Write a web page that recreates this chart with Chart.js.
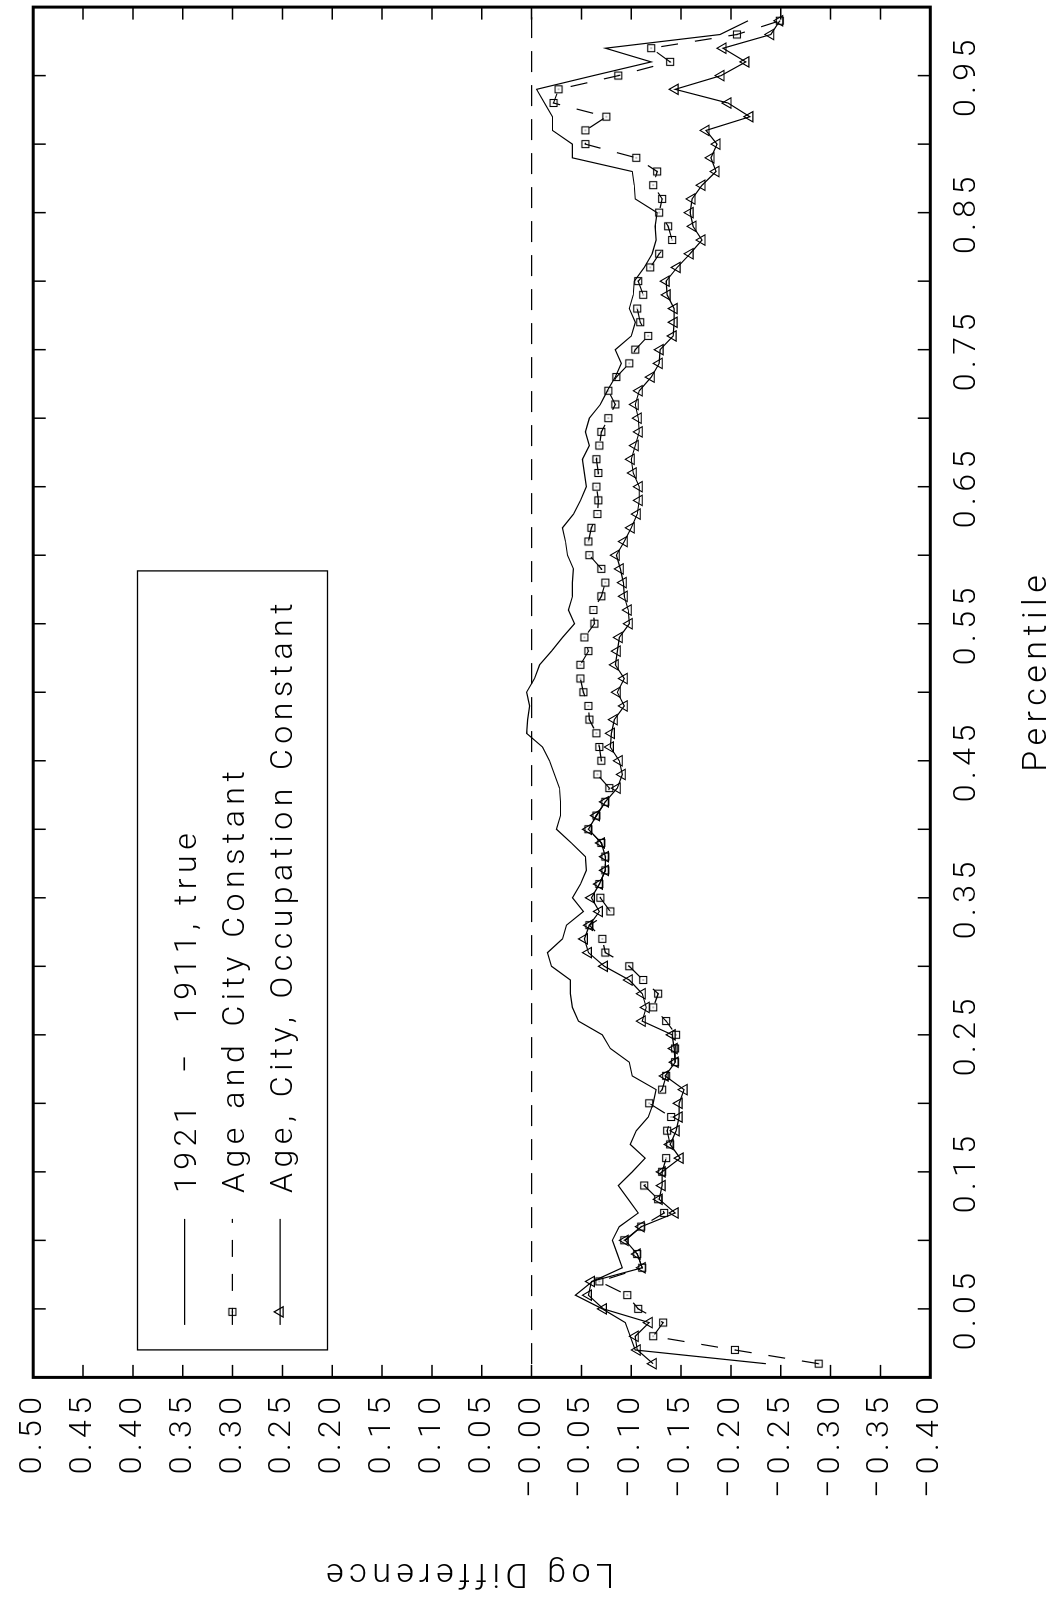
<!DOCTYPE html>
<html>
<head>
<meta charset="utf-8">
<script src="https://cdn.jsdelivr.net/npm/chart.js@4.4.1/dist/chart.umd.min.js"></script>
<style>
    html, body { margin: 0; padding: 0; background: #fff; overflow: hidden; }
    body { width: 1056px; height: 1598px; position: relative; }
    /* the chart is drawn landscape and turned a quarter turn to the left */
    #page {
        position: absolute; left: 0; top: 0;
        width: 1598px; height: 1056px;
        transform-origin: 0 0;
        transform: translateY(1598px) rotate(-90deg);
    }
</style>
</head>
<body>
<div id="page"><canvas id="chart" width="1598" height="1056"></canvas></div>
<script>
const PERCENTILES = [
    0.01, 0.02, 0.03, 0.04, 0.05, 0.06, 0.07, 0.08, 0.09, 0.10,
    0.11, 0.12, 0.13, 0.14, 0.15, 0.16, 0.17, 0.18, 0.19, 0.20,
    0.21, 0.22, 0.23, 0.24, 0.25, 0.26, 0.27, 0.28, 0.29, 0.30,
    0.31, 0.32, 0.33, 0.34, 0.35, 0.36, 0.37, 0.38, 0.39, 0.40,
    0.41, 0.42, 0.43, 0.44, 0.45, 0.46, 0.47, 0.48, 0.49, 0.50,
    0.51, 0.52, 0.53, 0.54, 0.55, 0.56, 0.57, 0.58, 0.59, 0.60,
    0.61, 0.62, 0.63, 0.64, 0.65, 0.66, 0.67, 0.68, 0.69, 0.70,
    0.71, 0.72, 0.73, 0.74, 0.75, 0.76, 0.77, 0.78, 0.79, 0.80,
    0.81, 0.82, 0.83, 0.84, 0.85, 0.86, 0.87, 0.88, 0.89, 0.90,
    0.91, 0.92, 0.93, 0.94, 0.95, 0.96, 0.97, 0.98, 0.99
];

const SERIES_NAMES = ['1921  \u2212  1911, true', 'Age and City Constant', 'Age, City, Occupation Constant'];

const TRUE_DIFF = [
    -0.235, -0.104, -0.099, -0.094, -0.071, -0.044, -0.061, -0.091, -0.086, -0.081,
    -0.088, -0.107, -0.097, -0.087, -0.101, -0.114, -0.099, -0.105, -0.117, -0.122,
    -0.125, -0.101, -0.098, -0.079, -0.071, -0.047, -0.041, -0.039, -0.039, -0.020,
    -0.016, -0.031, -0.035, -0.052, -0.041, -0.049, -0.055, -0.054, -0.040, -0.025,
    -0.029, -0.029, -0.028, -0.023, -0.018, -0.011, 0.005, 0.004, 0.002, 0.005,
    -0.003, -0.008, -0.020, -0.031, -0.043, -0.037, -0.041, -0.041, -0.042, -0.036,
    -0.034, -0.031, -0.042, -0.049, -0.055, -0.053, -0.051, -0.058, -0.054, -0.058,
    -0.069, -0.076, -0.084, -0.090, -0.084, -0.100, -0.104, -0.098, -0.102, -0.103,
    -0.113, -0.121, -0.125, -0.124, -0.126, -0.104, -0.103, -0.101, -0.041, -0.041,
    -0.021, -0.021, -0.013, -0.005, -0.062, -0.120, -0.074, -0.189, -0.217
];

const AGE_CITY = [
    -0.288, -0.204, -0.122, -0.132, -0.107, -0.096, -0.068, -0.111, -0.106, -0.093,
    -0.110, -0.133, -0.127, -0.113, -0.131, -0.135, -0.139, -0.136, -0.140, -0.118,
    -0.131, -0.135, -0.144, -0.144, -0.145, -0.135, -0.122, -0.127, -0.112, -0.098,
    -0.074, -0.071, -0.058, -0.079, -0.069, -0.068, -0.074, -0.074, -0.070, -0.057,
    -0.065, -0.074, -0.078, -0.066, -0.070, -0.068, -0.065, -0.058, -0.057, -0.052,
    -0.049, -0.049, -0.057, -0.053, -0.063, -0.062, -0.070, -0.074, -0.070, -0.058,
    -0.057, -0.060, -0.066, -0.067, -0.065, -0.067, -0.065, -0.068, -0.070, -0.077,
    -0.084, -0.077, -0.085, -0.098, -0.104, -0.117, -0.109, -0.106, -0.112, -0.107,
    -0.119, -0.128, -0.141, -0.137, -0.128, -0.131, -0.122, -0.126, -0.105, -0.054,
    -0.054, -0.075, -0.022, -0.027, -0.087, -0.139, -0.120, -0.206, -0.249
];

const AGE_CITY_OCC = [
    -0.122, -0.106, -0.104, -0.118, -0.072, -0.057, -0.060, -0.111, -0.106, -0.094,
    -0.110, -0.144, -0.128, -0.131, -0.131, -0.149, -0.139, -0.145, -0.148, -0.148,
    -0.153, -0.134, -0.144, -0.143, -0.141, -0.111, -0.115, -0.111, -0.098, -0.073,
    -0.057, -0.053, -0.058, -0.068, -0.060, -0.068, -0.074, -0.074, -0.070, -0.057,
    -0.065, -0.074, -0.086, -0.091, -0.088, -0.079, -0.080, -0.083, -0.093, -0.086,
    -0.093, -0.084, -0.086, -0.088, -0.098, -0.097, -0.093, -0.092, -0.089, -0.085,
    -0.093, -0.100, -0.106, -0.108, -0.108, -0.102, -0.100, -0.104, -0.108, -0.107,
    -0.104, -0.108, -0.120, -0.128, -0.129, -0.142, -0.143, -0.143, -0.136, -0.135,
    -0.146, -0.159, -0.171, -0.162, -0.159, -0.161, -0.171, -0.185, -0.180, -0.186,
    -0.175, -0.219, -0.197, -0.144, -0.190, -0.215, -0.192, -0.240, -0.249
];

// labelled ticks and the unlabelled tick marks between them
const PERCENTILE_TICKS = [0.05, 0.15, 0.25, 0.35, 0.45, 0.55, 0.65, 0.75, 0.85, 0.95];
const PERCENTILE_LABELS = ['0.05', '0.15', '0.25', '0.35', '0.45', '0.55', '0.65', '0.75', '0.85', '0.95'];
const PERCENTILE_MARKS = [0.05, 0.10, 0.15, 0.20, 0.25, 0.30, 0.35, 0.40, 0.45, 0.50,
    0.55, 0.60, 0.65, 0.70, 0.75, 0.80, 0.85, 0.90, 0.95];

const LOG_DIFF_TICKS = [0.50, 0.45, 0.40, 0.35, 0.30, 0.25, 0.20, 0.15, 0.10, 0.05,
    0.00, -0.05, -0.10, -0.15, -0.20, -0.25, -0.30, -0.35, -0.40];
const LOG_DIFF_LABELS = ['0.50', '0.45', '0.40', '0.35', '0.30', '0.25', '0.20', '0.15', '0.10', '0.05',
    '\u22120.00', '\u22120.05', '\u22120.10', '\u22120.15', '\u22120.20', '\u22120.25', '\u22120.30', '\u22120.35', '\u22120.40'];
const LOG_DIFF_MARKS = [0.45, 0.40, 0.35, 0.30, 0.25, 0.20, 0.15, 0.10, 0.05, 0.00,
    -0.05, -0.10, -0.15, -0.20, -0.25, -0.30, -0.35];

const X_TITLE = 'Percentile';
const Y_TITLE = 'Log Difference';

const FONT_FAMILY = 'Roboto, "Liberation Sans", sans-serif';
const LETTER_SPACING = 5.5;
const TICK_FONT = { family: FONT_FAMILY, size: 32, weight: '300' };
const TITLE_FONT = { family: FONT_FAMILY, size: 34, weight: '300' };

function labelFor(values, labels, value) {
    const i = values.findIndex(v => Math.abs(v - value) < 1e-6);
    return i >= 0 ? labels[i] : '';
}

function makeSquareMarker() {
    const c = document.createElement('canvas');
    c.width = 10;
    c.height = 10;
    const g = c.getContext('2d');
    g.strokeStyle = '#000';
    g.lineWidth = 1.1;
    g.strokeRect(1.5, 1.5, 7, 7);
    g.fillStyle = '#000';
    g.fillRect(4.5, 4.5, 1, 1);
    return c;
}

const squareMarker = makeSquareMarker();

const seriesStyles = [
    { dash: [], point: null },
    { dash: [17, 17], point: { pointStyle: squareMarker, radius: 5, borderWidth: 1 } },
    { dash: [], point: { pointStyle: 'triangle', radius: 6, borderWidth: 1.1 } }
];

const framePlugin = {
    id: 'frame',
    beforeDraw(chart) {
        chart.ctx.letterSpacing = LETTER_SPACING + 'px';
    },
    beforeDatasetsDraw(chart) {
        const { ctx, chartArea: a, scales: { y } } = chart;
        const y0 = y.getPixelForValue(0);
        ctx.save();
        ctx.strokeStyle = '#000';
        ctx.lineWidth = 1.3;
        ctx.setLineDash([21, 13]);
        ctx.lineDashOffset = 24;
        ctx.beginPath();
        ctx.moveTo(a.right, y0);
        ctx.lineTo(a.left, y0);
        ctx.stroke();
        ctx.restore();
    },
    afterDraw(chart) {
        const { ctx, chartArea: a, scales: { x, y } } = chart;
        const tick = 12.5;
        ctx.save();
        ctx.strokeStyle = '#000';

        // inward tick marks on all four sides
        ctx.lineWidth = 1.5;
        ctx.beginPath();
        PERCENTILE_MARKS.forEach(p => {
            const px = x.getPixelForValue(p);
            ctx.moveTo(px, a.top); ctx.lineTo(px, a.top + tick);
            ctx.moveTo(px, a.bottom); ctx.lineTo(px, a.bottom - tick);
        });
        LOG_DIFF_MARKS.forEach(v => {
            const py = y.getPixelForValue(v);
            ctx.moveTo(a.left, py); ctx.lineTo(a.left + tick, py);
            ctx.moveTo(a.right, py); ctx.lineTo(a.right - tick, py);
        });
        ctx.stroke();

        ctx.lineWidth = 3;
        ctx.strokeRect(a.left, a.top, a.right - a.left, a.bottom - a.top);

        // axis titles, both set a little off the plot centre as in the original
        ctx.fillStyle = '#000';
        ctx.font = `${TITLE_FONT.weight} ${TITLE_FONT.size}px ${FONT_FAMILY}`;
        ctx.textAlign = 'center';
        ctx.textBaseline = 'alphabetic';
        ctx.fillText(X_TITLE, 924.5 + LETTER_SPACING / 2, 1045.5);

        ctx.save();
        ctx.translate(25.4, 470 - LETTER_SPACING / 2);
        ctx.rotate(-Math.PI / 2);
        ctx.textBaseline = 'middle';
        ctx.fillText(Y_TITLE, 0, 0);
        ctx.restore();

        // legend box in the upper left of the plot
        const boxLeft = a.left + 27.5, boxTop = 137.5;
        ctx.lineWidth = 1.3;
        ctx.strokeRect(boxLeft, boxTop, 779, 190);
        ctx.font = `${TICK_FONT.weight} ${TICK_FONT.size}px ${FONT_FAMILY}`;
        ctx.textAlign = 'left';
        ctx.textBaseline = 'alphabetic';
        SERIES_NAMES.forEach((name, i) => {
            const rowY = 184.7 + i * 47.7;
            const st = seriesStyles[i];
            ctx.lineWidth = 1.2;
            ctx.setLineDash(st.dash);
            ctx.lineDashOffset = 0;
            ctx.beginPath();
            ctx.moveTo(boxLeft + 25, rowY);
            ctx.lineTo(boxLeft + 131, rowY);
            ctx.stroke();
            ctx.setLineDash([]);
            if (st.point) {
                ctx.fillStyle = 'rgba(0,0,0,0)';
                Chart.helpers.drawPoint(ctx, {
                    pointStyle: st.point.pointStyle, radius: st.point.radius,
                    borderWidth: st.point.borderWidth, rotation: 0
                }, boxLeft + 38, rowY);
            }
            ctx.fillStyle = '#000';
            ctx.fillText(name, boxLeft + 157, rowY + 11.5);
        });
        ctx.restore();
    }
};

const seriesData = [TRUE_DIFF, AGE_CITY, AGE_CITY_OCC];

const datasets = seriesData.map((values, i) => {
    const st = seriesStyles[i];
    return {
        label: SERIES_NAMES[i],
        data: PERCENTILES.map((p, j) => ({ x: p, y: values[j] })),
        borderColor: '#000',
        borderWidth: 1.2,
        borderDash: st.dash,
        backgroundColor: 'rgba(0,0,0,0)',
        tension: 0,
        fill: false,
        pointRadius: st.point ? st.point.radius : 0,
        pointStyle: st.point ? st.point.pointStyle : 'circle',
        pointBorderColor: '#000',
        pointBackgroundColor: 'rgba(0,0,0,0)',
        pointBorderWidth: st.point ? st.point.borderWidth : 0
    };
});

new Chart(document.getElementById('chart').getContext('2d'), {
    type: 'line',
    data: { datasets },
    plugins: [framePlugin],
    options: {
        responsive: false,
        animation: false,
        devicePixelRatio: 1,
        layout: { padding: { top: 26.5, right: 3, left: 0, bottom: 0 } },
        plugins: {
            legend: { display: false },
            tooltip: { enabled: false }
        },
        scales: {
            x: {
                type: 'linear',
                min: 0,
                max: 1,
                grid: { display: false, drawTicks: false },
                border: { display: false },
                afterBuildTicks: scale => { scale.ticks = PERCENTILE_TICKS.map(v => ({ value: v })); },
                afterFit: scale => { scale.height = 125.7; },
                ticks: {
                    autoSkip: false,
                    maxRotation: 0,
                    padding: 17,
                    color: '#000',
                    font: TICK_FONT,
                    callback: v => labelFor(PERCENTILE_TICKS, PERCENTILE_LABELS, v)
                },
                title: { display: false }
            },
            y: {
                type: 'linear',
                min: -0.4,
                max: 0.5,
                grid: { display: false, drawTicks: false },
                border: { display: false },
                afterBuildTicks: scale => { scale.ticks = LOG_DIFF_TICKS.map(v => ({ value: v })); },
                afterFit: scale => { scale.width = 220.6; },
                ticks: {
                    autoSkip: false,
                    padding: 14,
                    color: '#000',
                    font: TICK_FONT,
                    callback: v => labelFor(LOG_DIFF_TICKS, LOG_DIFF_LABELS, v)
                },
                title: { display: false }
            }
        }
    }
});
</script>
</body>
</html>
